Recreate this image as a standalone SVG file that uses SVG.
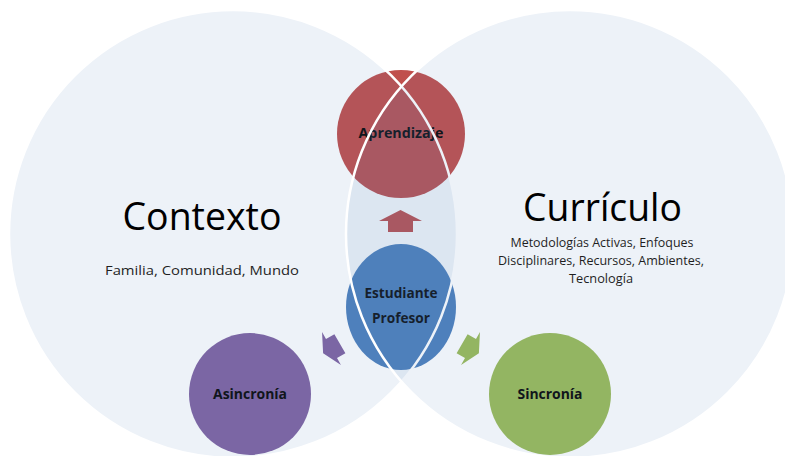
<svg xmlns="http://www.w3.org/2000/svg" width="785" height="456" viewBox="0 0 785 456">
  <style>
    .big { fill: #4f81bd; fill-opacity: 0.1; stroke: #ffffff; stroke-width: 2.5; }
    .title { font-family: "Open Sans", "Liberation Sans", sans-serif; font-size: 39px; fill: #000000; text-anchor: middle; }
    .sub { font-family: "Open Sans", "Liberation Sans", sans-serif; font-size: 13px; fill: #1f1f1f; text-anchor: middle; }
    .lbl { font-family: "Open Sans", "Liberation Sans", sans-serif; font-size: 14.5px; font-weight: bold; fill: #0a0a0a; text-anchor: middle; }
  </style>
  <defs>
    <path id="arrow" d="M0,-11 L21.5,0 L12.5,0 L12.5,11 L-12.5,11 L-12.5,0 L-21.5,0 Z"/>
  </defs>
  <rect width="785" height="456" fill="#ffffff"/>

  <g id="aprendizaje">
    <circle cx="401" cy="134" r="64" fill="#c0504d"/>
    <text class="lbl" x="401" y="138" textLength="85" lengthAdjust="spacingAndGlyphs">Aprendizaje</text>
  </g>
  <g id="estudiante-profesor">
    <ellipse cx="401" cy="307" rx="55" ry="63" fill="#4f81bd"/>
    <text class="lbl" x="401" y="298" textLength="73" lengthAdjust="spacingAndGlyphs">Estudiante</text>
    <text class="lbl" x="401" y="323" textLength="58" lengthAdjust="spacingAndGlyphs">Profesor</text>
  </g>
  <g id="asincronia">
    <circle cx="250" cy="394" r="61" fill="#8064a2"/>
    <text class="lbl" x="250" y="399" textLength="74" lengthAdjust="spacingAndGlyphs">Asincronía</text>
  </g>
  <g id="sincronia">
    <circle cx="550" cy="394" r="61" fill="#9bbb59"/>
    <text class="lbl" x="550" y="399" textLength="65" lengthAdjust="spacingAndGlyphs">Sincronía</text>
  </g>

  <g id="connectors">
    <use href="#arrow" transform="translate(400.5,221)" fill="#c0504d"/>
    <use href="#arrow" transform="translate(331.5,348.5) rotate(240) scale(0.88)" fill="#8064a2"/>
    <use href="#arrow" transform="translate(470.5,348.5) rotate(120) scale(0.88)" fill="#9bbb59"/>
  </g>

  <g id="contexto">
    <circle class="big" cx="233" cy="234" r="224"/>
    <text class="title" x="202" y="230" textLength="159" lengthAdjust="spacingAndGlyphs">Contexto</text>
    <text class="sub" x="202" y="275" textLength="194" lengthAdjust="spacingAndGlyphs">Familia, Comunidad, Mundo</text>
  </g>
  <g id="curriculo">
    <circle class="big" cx="570" cy="234" r="224"/>
    <text class="title" x="602.5" y="221" textLength="159" lengthAdjust="spacingAndGlyphs">Currículo</text>
    <text class="sub" x="602" y="247" textLength="183" lengthAdjust="spacingAndGlyphs">Metodologías Activas, Enfoques</text>
    <text class="sub" x="601" y="265" textLength="206" lengthAdjust="spacingAndGlyphs">Disciplinares, Recursos, Ambientes,</text>
    <text class="sub" x="601" y="283" textLength="64" lengthAdjust="spacingAndGlyphs">Tecnología</text>
  </g>
</svg>
